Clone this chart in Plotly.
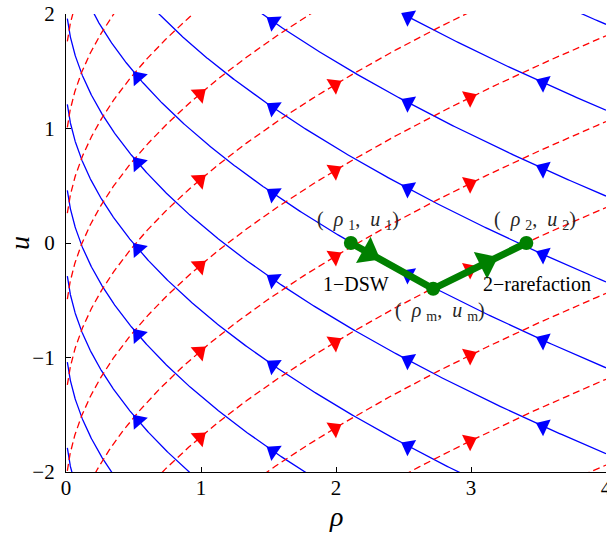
import numpy as np
import plotly.graph_objects as go

# ---- data ----
# blue solid curves: u + 2*sqrt(rho) = c ; red dashed curves: u - 2*sqrt(rho) = d
blue_c = [5.91, 5.16, 4.41, 3.66, 2.91, 2.16, 1.41, 0.66, -0.09, -0.84, -1.59]
red_d = [1.56, 0.81, 0.06, -0.69, -1.44, -2.19, -2.94, -3.69, -4.44, -5.19, -5.94]
blue_arrow_rho = [0.5, 1.5, 2.5, 3.5]
red_arrow_rho = [1.0, 2.0, 3.0]
state_rho = [2.11, 2.72, 3.41]   # (rho1,u1), (rho_m,u_m), (rho2,u2)
state_u = [0.0, -0.40, 0.0]
wave_arrow_frac = [0.22, 0.57]   # arrowheads along 1-DSW and 2-rarefaction
x_ticks = [0, 1, 2, 3, 4]
y_ticks = [-2, -1, 0, 1, 2]

# ---- layout geometry ----
W, H = 607, 534
ML, MR, MT, MB = 66, 1, 14, 62
XR = [0, 4]
YR = [-2, 2]
sx = (W - ML - MR) / (XR[1] - XR[0])
sy = (H - MT - MB) / (YR[1] - YR[0])

BLUE = "rgb(0,0,255)"
RED = "rgb(255,0,0)"
GREEN = "rgb(0,128,0)"
FONT = "Liberation Serif"

t = np.linspace(0, 1, 500)
rho = 0.01 + (4 - 0.01) * t ** 2

fig = go.Figure()

# blue family
bx, by = [], []
for c in blue_c:
    bx += list(rho) + [None]
    by += list(c - 2 * np.sqrt(rho)) + [None]
fig.add_trace(go.Scatter(x=bx, y=by, mode="lines", line=dict(color=BLUE, width=1.3),
                         hoverinfo="skip", showlegend=False))

# red family
rx, ry = [], []
for d in red_d:
    rx += list(rho) + [None]
    ry += list(d + 2 * np.sqrt(rho)) + [None]
fig.add_trace(go.Scatter(x=rx, y=ry, mode="lines",
                         line=dict(color=RED, width=1.3, dash="7px,4px"),
                         hoverinfo="skip", showlegend=False))

# blue arrowheads (pointing toward decreasing rho)
ax, ay, aa = [], [], []
for r0 in blue_arrow_rho:
    for c in blue_c:
        u0 = c - 2 * np.sqrt(r0)
        if YR[0] - 0.01 <= u0 <= YR[1] + 0.01:
            r = r0 + 0.035
            ax.append(r)
            ay.append(c - 2 * np.sqrt(r))
            aa.append(np.degrees(np.arctan2(-sx, sy / np.sqrt(r))))
fig.add_trace(go.Scatter(x=ax, y=ay, mode="markers", cliponaxis=False,
                         marker=dict(symbol="triangle-up", size=16, color=BLUE, angle=aa,
                                     line=dict(width=0)),
                         hoverinfo="skip", showlegend=False))

# red arrowheads (pointing toward increasing rho)
ax, ay, aa = [], [], []
for r0 in red_arrow_rho:
    for d in red_d:
        u0 = d + 2 * np.sqrt(r0)
        if YR[0] - 0.01 <= u0 <= YR[1] + 0.01:
            r = r0 - 0.01
            ax.append(r)
            ay.append(d + 2 * np.sqrt(r))
            aa.append(np.degrees(np.arctan2(sx, sy / np.sqrt(r))))
fig.add_trace(go.Scatter(x=ax, y=ay, mode="markers", cliponaxis=False,
                         marker=dict(symbol="triangle-up", size=16, color=RED, angle=aa,
                                     line=dict(width=0)),
                         hoverinfo="skip", showlegend=False))

# wave path
fig.add_trace(go.Scatter(x=state_rho, y=state_u, mode="lines+markers",
                         line=dict(color=GREEN, width=7),
                         marker=dict(symbol="circle", size=14, color=GREEN),
                         cliponaxis=False, hoverinfo="skip", showlegend=False))
gx, gy, ga = [], [], []
for i, f in enumerate(wave_arrow_frac):
    r_a, r_b = state_rho[i], state_rho[i + 1]
    u_a, u_b = state_u[i], state_u[i + 1]
    gx.append(r_a + f * (r_b - r_a))
    gy.append(u_a + f * (u_b - u_a))
    ga.append(np.degrees(np.arctan2((r_b - r_a) * sx, (u_b - u_a) * sy)))
fig.add_trace(go.Scatter(x=gx, y=gy, mode="markers", cliponaxis=False,
                         marker=dict(symbol="triangle-up", size=26, color=GREEN, angle=ga,
                                     line=dict(width=0)),
                         hoverinfo="skip", showlegend=False))

# labels
lab_font = dict(family=FONT, size=20, color="#262626")
txt_font = dict(family=FONT, size=20, color="black")
ann = [
    dict(x=state_rho[0], y=state_u[0], xshift=7, yshift=23,
         text="(  <i>ρ</i> <sub>1</sub>,  <i>u</i> <sub>1</sub>)", font=lab_font),
    dict(x=state_rho[2], y=state_u[2], xshift=9, yshift=23,
         text="(  <i>ρ</i> <sub>2</sub>,  <i>u</i> <sub>2</sub>)", font=lab_font),
    dict(x=state_rho[1], y=state_u[1], xshift=7, yshift=-23,
         text="(  <i>ρ</i> <sub>m</sub>,  <i>u</i> <sub>m</sub>)", font=lab_font),
    dict(x=state_rho[0], y=state_u[0], xshift=5, yshift=-41, text="1−DSW", font=txt_font),
    dict(x=state_rho[2], y=state_u[2], xshift=11, yshift=-41, text="2−rarefaction", font=txt_font),
]
for a in ann:
    a.update(xref="x", yref="y", showarrow=False, xanchor="center", yanchor="middle")

# axis titles
ann.append(dict(xref="paper", yref="paper", x=0.5, y=0, yshift=-44, showarrow=False,
                xanchor="center", yanchor="middle", text="<i>ρ</i>",
                font=dict(family=FONT, size=28, color="black")))
ann.append(dict(xref="paper", yref="paper", x=0, y=0.5, xshift=-47, showarrow=False,
                xanchor="center", yanchor="middle", text="<i>u</i>", textangle=-90,
                font=dict(family=FONT, size=28, color="black")))

axis_common = dict(showline=True, linecolor="black", linewidth=1.2, ticks="inside",
                   ticklen=5, tickcolor="black", tickwidth=1, showgrid=False, zeroline=False,
                   mirror=False, automargin=False, ticklabeloverflow="allow",
                   tickfont=dict(family=FONT, size=21, color="black"))

fig.update_layout(
    width=W, height=H,
    margin=dict(l=ML, r=MR, t=MT, b=MB),
    paper_bgcolor="white", plot_bgcolor="white",
    xaxis=dict(range=XR, tickvals=x_ticks, ticklabelstandoff=-3, **axis_common),
    yaxis=dict(range=YR, tickvals=y_ticks, ticklabelstandoff=6, **axis_common),
    annotations=ann,
    showlegend=False,
)

fig.write_html("out.html", config={"displayModeBar": False},
               post_script="document.body.style.margin='0';document.body.style.overflow='hidden';")
